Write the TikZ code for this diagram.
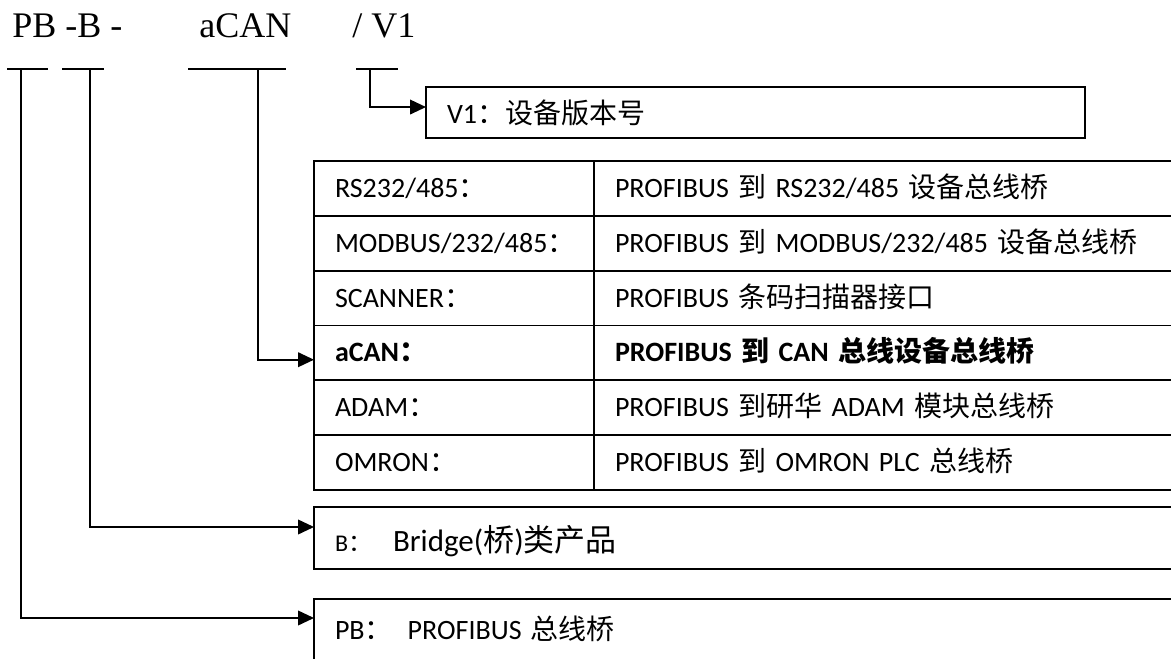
\documentclass[tikz,border=0pt]{standalone}
\usepackage{fontspec}
\setmainfont{Carlito}
\newfontfamily\cjk{Noto Sans CJK SC}
\newfontfamily\serifpart{Liberation Serif}
\newcommand{\zhs}[1]{{\cjk #1}}
\usetikzlibrary{positioning,arrows.meta}
\tikzstyle{partno}   = [font=\serifpart\fontsize{27}{30}\selectfont, inner sep=0pt, anchor=base west]
\tikzstyle{partline} = [draw, line width=1.3pt]
\tikzstyle{flow}     = [draw, line width=1.3pt, -{Triangle[length=12pt, width=11pt]}]
\tikzstyle{tabcell}  = [rectangle, draw, line width=1.4pt, outer sep=0pt, inner xsep=15.75pt, align=left, minimum height=41.125pt, font=\fontsize{21}{25}\selectfont, text height=15pt, text depth=1.5pt]
\tikzstyle{namecell} = [tabcell, text width=178.5pt]
\tikzstyle{desccell} = [tabcell, text width=423pt]
\tikzstyle{infobox}  = [rectangle, draw, line width=1.3pt, outer sep=0pt, inner xsep=15.75pt, align=left, font=\fontsize{21}{25}\selectfont]

\begin{document}
\begin{tikzpicture}[x=0.75pt, y=-0.75pt, node distance=0pt]
            \useasboundingbox (0,0) rectangle (1171,659);
            \clip (0,0) rectangle (1171,659);

            % part number
            \node[partno] (tPB)  at (12,38)  {PB};
            \node[partno] (tB)   at (65,38)  {-B -};
            \node[partno] (tCAN) at (199,38) {aCAN};
            \node[partno] (tVer) at (352,38) {/ V1};

            \path [partline] (7,69)   -- (48,69);
            \path [partline] (62,69)  -- (104,69);
            \path [partline] (188,69) -- (286,69);
            \path [partline] (356,69) -- (398,69);
            \coordinate (uPB)  at (21,69);
            \coordinate (uB)   at (90,69);
            \coordinate (uCAN) at (258,69);
            \coordinate (uVer) at (370,69);

            % version
            \node[infobox, anchor=north west, text width=462.75pt, minimum height=38.25pt, text height=18pt, text depth=0.75pt] (ver) at (426,87) {V1\zhs{：设备版本号}};

            % product table
            \node[namecell, anchor=north west] (rs) at (314,161) {RS232/485\zhs{：}};
            \node[namecell, below=of rs]  (mb)   {MODBUS/232/485\zhs{：}};
            \node[namecell, below=of mb]  (scan) {SCANNER\zhs{：}};
            \node[namecell, below=of scan] (can) {\textbf{aCAN\zhs{：}}};
            \node[namecell, below=of can] (adam) {ADAM\zhs{：}};
            \node[namecell, below=of adam] (omr) {OMRON\zhs{：}};
            \node[desccell, right=of rs]   (rsD)   {PROFIBUS \zhs{到} RS232/485 \zhs{设备总线桥}};
            \node[desccell, right=of mb]   (mbD)   {PROFIBUS \zhs{到} MODBUS/232/485 \zhs{设备总线桥}};
            \node[desccell, right=of scan] (scanD) {PROFIBUS \zhs{条码扫描器接口}};
            \node[desccell, right=of can]  (canD)  {\textbf{PROFIBUS \zhs{到} CAN \zhs{总线设备总线桥}}};
            \node[desccell, right=of adam] (adamD) {PROFIBUS \zhs{到研华} ADAM \zhs{模块总线桥}};
            \node[desccell, right=of omr]  (omrD)  {PROFIBUS \zhs{到} OMRON PLC \zhs{总线桥}};

            % bridge and profibus
            \node[infobox, anchor=north west, text width=633pt, minimum height=46.5pt, text height=20pt, text depth=0.5pt] (brg) at (314,507)
                {{\fontsize{18}{20}\selectfont B\zhs{：}}\hspace{15.75pt}{\fontsize{23.25}{26}\selectfont Bridge(\zhs{桥})\zhs{类产品}}};
            \node[infobox, anchor=north west, text width=633pt, minimum height=46.5pt, text height=15pt, text depth=1.5pt] (pb) at (314,599)
                {PB\zhs{：}\hspace{11.25pt}PROFIBUS \zhs{总线桥}};

            \path [flow] (uVer) |- ([yshift=4.1pt]ver.west);
            \path [flow] (uCAN) |- ([yshift=-5.1pt]can.west);
            \path [flow] (uB)   |- ([yshift=8.25pt]brg.west);
            \path [flow] (uPB)  |- ([yshift=9pt]pb.west);
        \end{tikzpicture}
\end{document}
